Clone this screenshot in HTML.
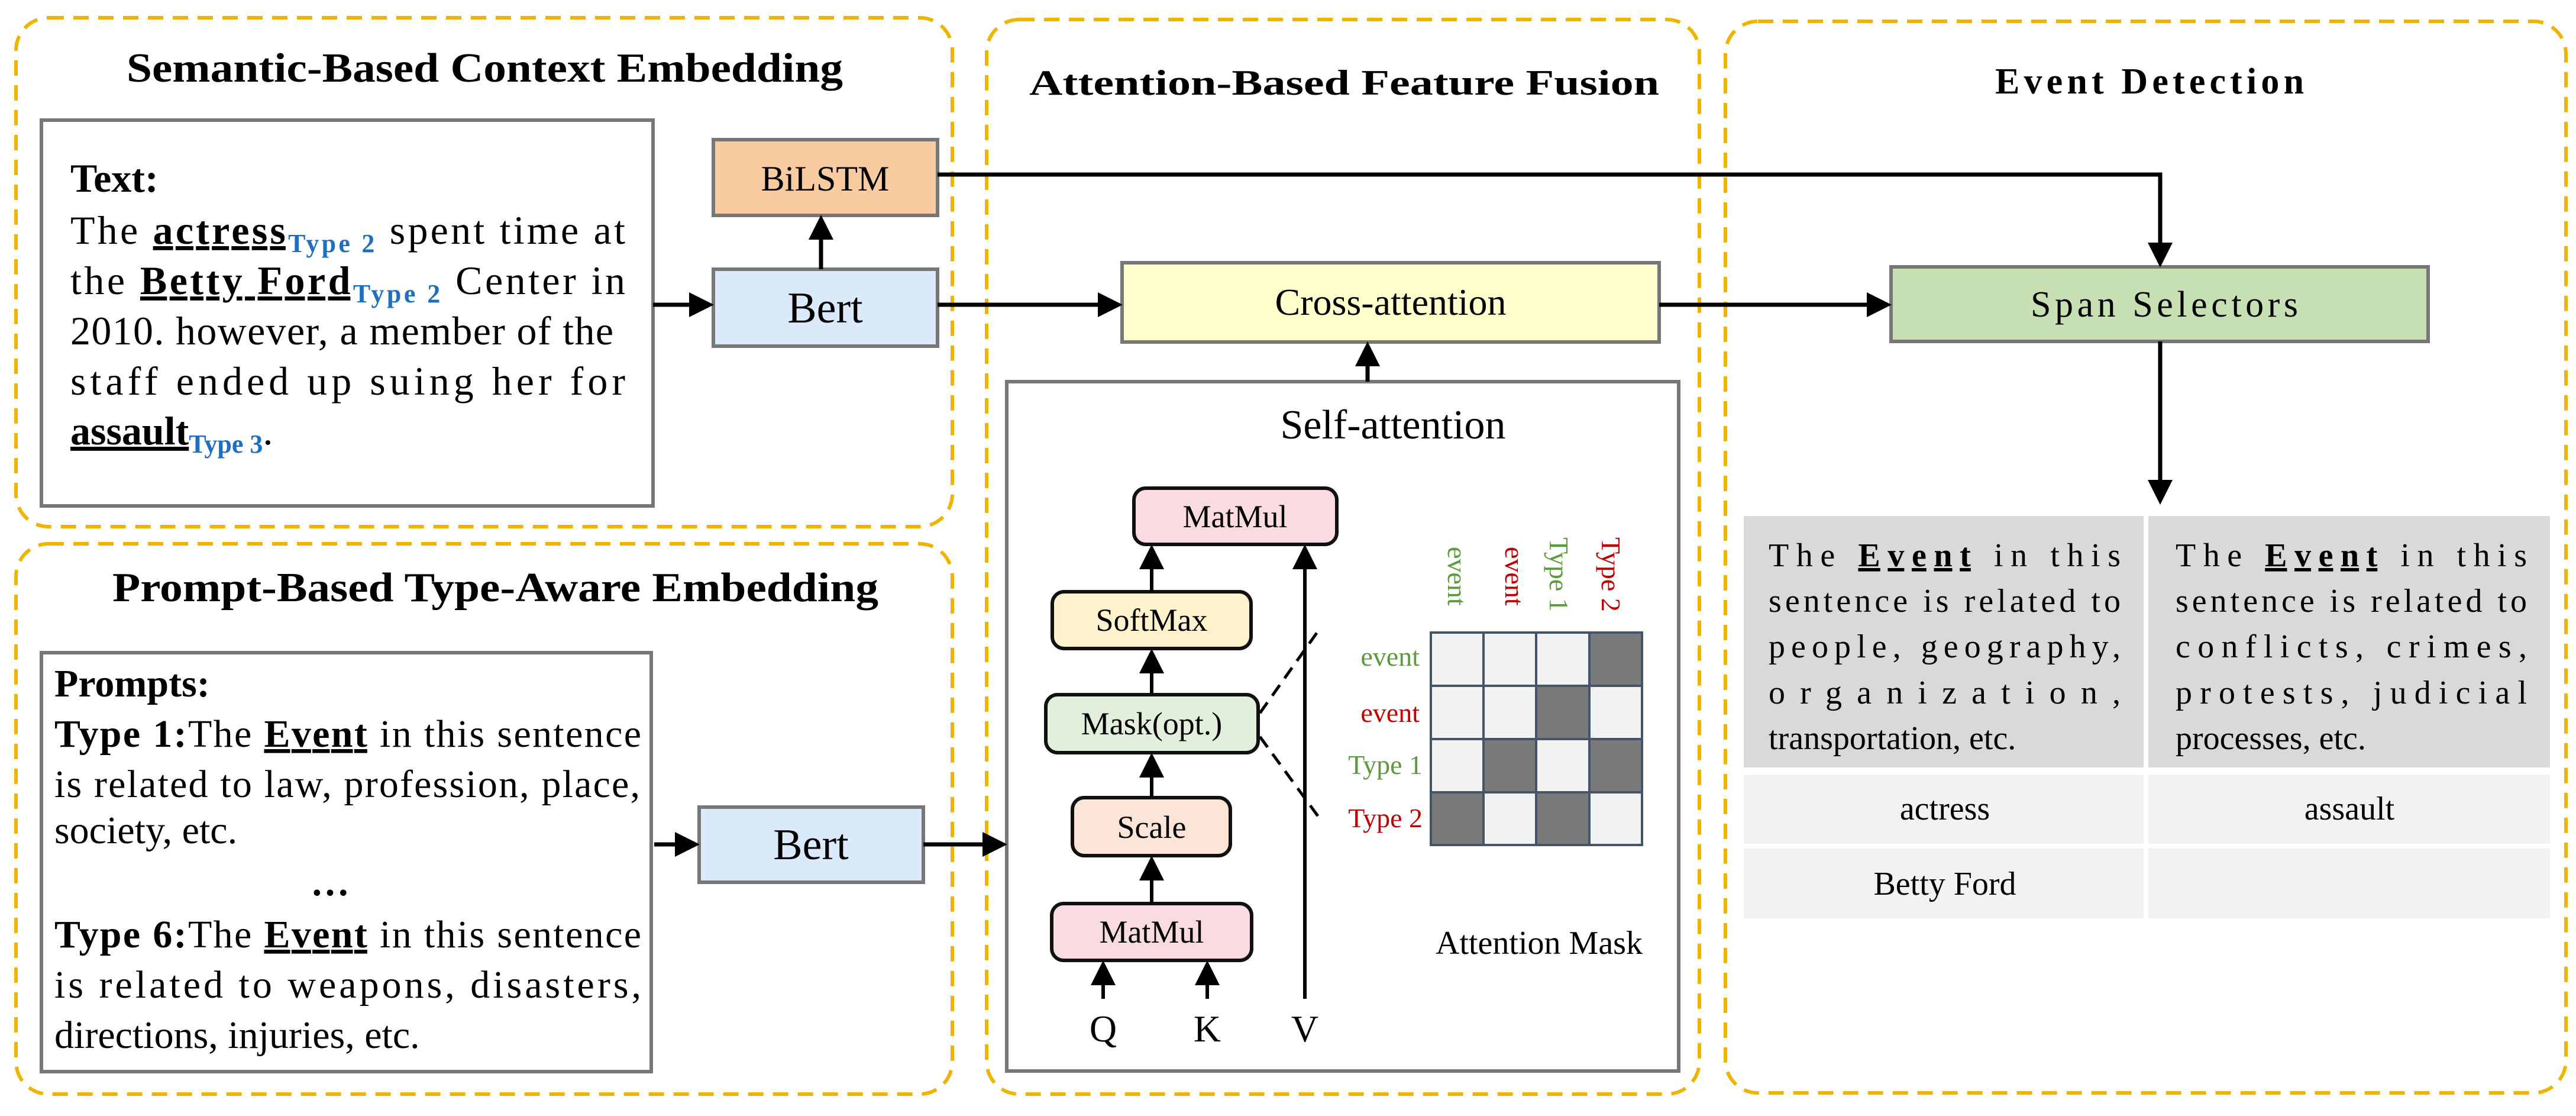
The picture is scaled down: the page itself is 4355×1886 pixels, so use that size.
<!DOCTYPE html>
<html><head><meta charset="utf-8"><style>
html,body{margin:0;padding:0;background:#fff;}
svg{display:block;}
text{font-family:"Liberation Serif",serif;}
</style></head><body>
<svg width="4355" height="1886" viewBox="0 0 4355 1886" xmlns="http://www.w3.org/2000/svg">
<defs>
<marker id="ah" markerWidth="6" markerHeight="6" refX="5" refY="3" orient="auto" markerUnits="strokeWidth">
<path d="M0,0 L6,3 L0,6 z" fill="#000"/></marker>
<marker id="ah2" markerWidth="7" markerHeight="7" refX="6" refY="3.5" orient="auto" markerUnits="strokeWidth">
<path d="M0,0 L7,3.5 L0,7 z" fill="#000"/></marker>
</defs>
<rect width="4355" height="1886" fill="#fff"/>

<!-- dashed panels -->
<g fill="none" stroke="#f0b400" stroke-width="6" stroke-dasharray="26 16">
<rect x="27" y="30" width="1583" height="860" rx="55"/>
<rect x="27" y="919" width="1583" height="930" rx="55"/>
<rect x="1668" y="33" width="1205" height="1816" rx="55"/>
<rect x="2917" y="36" width="1421" height="1811" rx="55"/>
</g>

<!-- titles -->
<g font-weight="bold" font-size="70" fill="#000">
<text x="214" y="138" textLength="1211" lengthAdjust="spacingAndGlyphs">Semantic-Based Context Embedding</text>
<text x="190" y="1016" textLength="1295" lengthAdjust="spacingAndGlyphs">Prompt-Based Type-Aware Embedding</text>
<text x="1740" y="160" font-size="60" textLength="1065" lengthAdjust="spacingAndGlyphs">Attention-Based Feature Fusion</text>
<text x="3373" y="158" font-size="62" textLength="522" lengthAdjust="spacing">Event Detection</text>
</g>

<!-- Text box -->
<rect x="70" y="203" width="1034" height="652" fill="#fff" stroke="#777" stroke-width="6"/>
<g font-size="68" fill="#000">
<text x="119" y="324" font-weight="bold">Text:</text>
<text x="119" y="412" textLength="938" lengthAdjust="spacing">The <tspan font-weight="bold" text-decoration="underline">actress</tspan><tspan font-size="44" font-weight="bold" fill="#1f6fc0" dy="14">Type 2</tspan><tspan dy="-14"> spent time at</tspan></text>
<text x="119" y="497" textLength="938" lengthAdjust="spacing">the <tspan font-weight="bold" text-decoration="underline">Betty Ford</tspan><tspan font-size="44" font-weight="bold" fill="#1f6fc0" dy="14">Type 2</tspan><tspan dy="-14"> Center in</tspan></text>
<text x="119" y="582" textLength="918" lengthAdjust="spacing">2010. however, a member of the</text>
<text x="119" y="667" textLength="938" lengthAdjust="spacing">staff ended up suing her for</text>
<text x="119" y="751"><tspan font-weight="bold" text-decoration="underline">assault</tspan><tspan font-size="44" font-weight="bold" fill="#1f6fc0" dy="14">Type 3</tspan><tspan dy="-14">.</tspan></text>
</g>

<!-- BiLSTM / Bert -->
<rect x="1206" y="236" width="379" height="128" fill="#f8cba0" stroke="#777" stroke-width="6"/>
<text x="1395" y="322" font-size="60" text-anchor="middle">BiLSTM</text>
<rect x="1206" y="455" width="379" height="130" fill="#dbeafb" stroke="#777" stroke-width="6"/>
<text x="1395" y="545" font-size="74" text-anchor="middle">Bert</text>

<!-- Prompt box -->
<rect x="70" y="1103" width="1031" height="708" fill="#fff" stroke="#777" stroke-width="6"/>
<g font-size="66" fill="#000">
<text x="92" y="1177" font-weight="bold">Prompts:</text>
<text x="92" y="1262" textLength="992" lengthAdjust="spacing"><tspan font-weight="bold">Type 1:</tspan>The <tspan font-weight="bold" text-decoration="underline">Event</tspan> in this sentence</text>
<text x="92" y="1347" textLength="990" lengthAdjust="spacing">is related to law, profession, place,</text>
<text x="92" y="1425">society, etc.</text>
<text x="558" y="1513" font-weight="bold" text-anchor="middle">…</text>
<text x="92" y="1601" textLength="992" lengthAdjust="spacing"><tspan font-weight="bold">Type 6:</tspan>The <tspan font-weight="bold" text-decoration="underline">Event</tspan> in this sentence</text>
<text x="92" y="1686" textLength="992" lengthAdjust="spacing">is related to weapons, disasters,</text>
<text x="92" y="1771">directions, injuries, etc.</text>
</g>
<rect x="1182" y="1364" width="379" height="127" fill="#dbeafb" stroke="#777" stroke-width="6"/>
<text x="1371" y="1452" font-size="74" text-anchor="middle">Bert</text>

<!-- Cross-attention -->
<rect x="1897" y="444" width="908" height="134" fill="#ffffcc" stroke="#777" stroke-width="6"/>
<text x="2351" y="532" font-size="64" text-anchor="middle">Cross-attention</text>

<!-- Self-attention box -->
<rect x="1702" y="645" width="1136" height="1165" fill="#fff" stroke="#777" stroke-width="6"/>
<text x="2355" y="741" font-size="70" text-anchor="middle">Self-attention</text>

<g stroke="#111" stroke-width="6">
<rect x="1917" y="825" width="343" height="95" rx="20" fill="#fadbe0"/>
<rect x="1779" y="1000" width="336" height="96" rx="20" fill="#fff2cc"/>
<rect x="1768" y="1174" width="359" height="98" rx="20" fill="#e2efda"/>
<rect x="1813" y="1348" width="267" height="98" rx="20" fill="#fce4d6"/>
<rect x="1778" y="1527" width="338" height="96" rx="20" fill="#fadbe0"/>
</g>
<g font-size="54" text-anchor="middle" fill="#000">
<text x="2088" y="891">MatMul</text>
<text x="1947" y="1066">SoftMax</text>
<text x="1947" y="1241">Mask(opt.)</text>
<text x="1947" y="1416">Scale</text>
<text x="1947" y="1593">MatMul</text>
<text x="1865" y="1760" font-size="64">Q</text>
<text x="2041" y="1760" font-size="64">K</text>
<text x="2206" y="1760" font-size="64">V</text>
</g>
<!-- internal arrows -->
<g stroke="#000" stroke-width="6" fill="none" marker-end="url(#ah2)">
<line x1="1947" y1="1000" x2="1947" y2="926"/>
<line x1="1947" y1="1174" x2="1947" y2="1102"/>
<line x1="1947" y1="1348" x2="1947" y2="1278"/>
<line x1="1947" y1="1527" x2="1947" y2="1452"/>
<line x1="1865" y1="1688" x2="1865" y2="1629"/>
<line x1="2041" y1="1688" x2="2041" y2="1629"/>
<line x1="2206" y1="1688" x2="2206" y2="926"/>
</g>
<g stroke="#000" stroke-width="5" stroke-dasharray="22 14" fill="none">
<line x1="2130" y1="1205" x2="2228" y2="1067"/>
<line x1="2130" y1="1245" x2="2228" y2="1379"/>
</g>

<!-- attention mask grid -->
<g stroke="#44546a" stroke-width="4">
<rect x="2419" y="1069" width="89" height="90" fill="#f2f2f2"/>
<rect x="2508" y="1069" width="89" height="90" fill="#f2f2f2"/>
<rect x="2597" y="1069" width="90" height="90" fill="#f2f2f2"/>
<rect x="2687" y="1069" width="89" height="90" fill="#7a7a7a"/>
<rect x="2419" y="1159" width="89" height="90" fill="#f2f2f2"/>
<rect x="2508" y="1159" width="89" height="90" fill="#f2f2f2"/>
<rect x="2597" y="1159" width="90" height="90" fill="#7a7a7a"/>
<rect x="2687" y="1159" width="89" height="90" fill="#f2f2f2"/>
<rect x="2419" y="1249" width="89" height="90" fill="#f2f2f2"/>
<rect x="2508" y="1249" width="89" height="90" fill="#7a7a7a"/>
<rect x="2597" y="1249" width="90" height="90" fill="#f2f2f2"/>
<rect x="2687" y="1249" width="89" height="90" fill="#7a7a7a"/>
<rect x="2419" y="1339" width="89" height="89" fill="#7a7a7a"/>
<rect x="2508" y="1339" width="89" height="89" fill="#f2f2f2"/>
<rect x="2597" y="1339" width="90" height="89" fill="#7a7a7a"/>
<rect x="2687" y="1339" width="89" height="89" fill="#f2f2f2"/>
</g>
<g font-size="46" text-anchor="end">
<text x="2400" y="1125" fill="#5b9b3c">event</text>
<text x="2400" y="1220" fill="#c00000">event</text>
<text x="2405" y="1308" fill="#5b9b3c">Type 1</text>
<text x="2405" y="1398" fill="#c00000">Type 2</text>
</g>
<g font-size="46">
<text transform="translate(2448,924) rotate(90)" fill="#5b9b3c">event</text>
<text transform="translate(2545,924) rotate(90)" fill="#c00000">event</text>
<text transform="translate(2620,908) rotate(90)" fill="#5b9b3c">Type 1</text>
<text transform="translate(2708,908) rotate(90)" fill="#c00000">Type 2</text>
</g>
<text x="2602" y="1612" font-size="56" text-anchor="middle">Attention Mask</text>

<!-- Span selectors -->
<rect x="3197" y="451" width="908" height="126" fill="#c6e0b4" stroke="#777" stroke-width="6"/>
<text x="3659" y="535" font-size="62" text-anchor="middle" textLength="452" lengthAdjust="spacing">Span Selectors</text>

<!-- table -->
<rect x="2948" y="872" width="676" height="425" fill="#d9d9d9"/>
<rect x="3632" y="872" width="679" height="425" fill="#d9d9d9"/>
<rect x="2948" y="1309" width="676" height="117" fill="#f2f2f2"/>
<rect x="3632" y="1309" width="679" height="117" fill="#f2f2f2"/>
<rect x="2948" y="1434" width="676" height="118" fill="#f2f2f2"/>
<rect x="3632" y="1434" width="679" height="118" fill="#f2f2f2"/>
<g font-size="56" fill="#000">
<text x="2990" y="957" textLength="595" lengthAdjust="spacing">The <tspan font-weight="bold" text-decoration="underline">Event</tspan> in this</text>
<text x="2990" y="1034" textLength="595" lengthAdjust="spacing">sentence is related to</text>
<text x="2990" y="1111" textLength="595" lengthAdjust="spacing">people, geography,</text>
<text x="2990" y="1189" textLength="595" lengthAdjust="spacing">organization,</text>
<text x="2990" y="1266">transportation, etc.</text>
<text x="3678" y="957" textLength="594" lengthAdjust="spacing">The <tspan font-weight="bold" text-decoration="underline">Event</tspan> in this</text>
<text x="3678" y="1034" textLength="594" lengthAdjust="spacing">sentence is related to</text>
<text x="3678" y="1111" textLength="594" lengthAdjust="spacing">conflicts, crimes,</text>
<text x="3678" y="1189" textLength="594" lengthAdjust="spacing">protests, judicial</text>
<text x="3678" y="1266">processes, etc.</text>
<text x="3288" y="1385" text-anchor="middle">actress</text>
<text x="3972" y="1385" text-anchor="middle">assault</text>
<text x="3288" y="1512" text-anchor="middle">Betty Ford</text>
</g>

<!-- main arrows -->
<g stroke="#000" stroke-width="7" fill="none" marker-end="url(#ah)">
<line x1="1104" y1="515" x2="1200" y2="515"/>
<line x1="1388" y1="455" x2="1388" y2="370"/>
<line x1="1585" y1="515" x2="1891" y2="515"/>
<line x1="2312" y1="645" x2="2312" y2="584"/>
<polyline points="1585,295 3652,295 3652,445"/>
<line x1="2805" y1="515" x2="3191" y2="515"/>
<line x1="3652" y1="577" x2="3652" y2="846"/>
<line x1="1106" y1="1427" x2="1176" y2="1427"/>
<line x1="1561" y1="1427" x2="1696" y2="1427"/>
</g>
</svg>
</body></html>
